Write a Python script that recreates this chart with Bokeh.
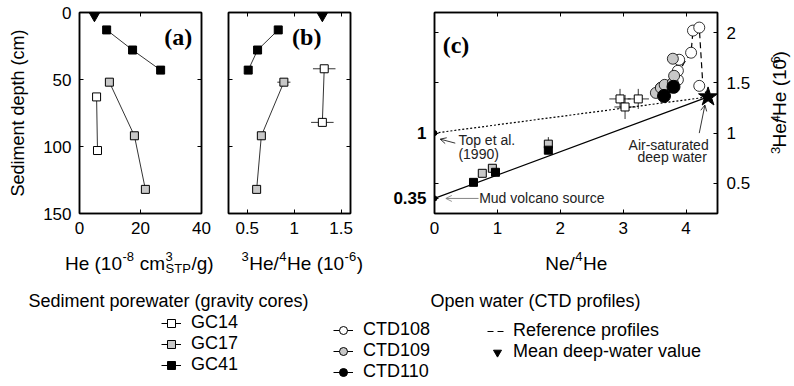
import math
from bokeh.plotting import figure
from bokeh.layouts import column, row
from bokeh.models import (LinearAxis, FixedTicker, Range1d, Arrow, OpenHead,
                          Legend, LegendItem)
from bokeh.core.properties import value
from bokeh.embed import file_html
from bokeh.resources import INLINE

# ---------------- data ----------------
# gravity cores: depth (cm), He (1e-8 ccSTP/g), 3He/4He (1e-6)
gc14_depth = [63, 103]
gc14_he = [5.6, 5.9]
gc14_depth_iso = [42, 82]
gc14_ratio = [1.32, 1.30]
gc14_ratio_err = [0.12, 0.12]

gc17_depth = [52, 92, 132]
gc17_he = [9.8, 18.0, 21.6]
gc17_ratio = [0.89, 0.65, 0.60]
gc17_ratio_err = [0.07, 0.03, 0.03]

gc41_depth = [13, 28, 43]
gc41_he = [8.9, 17.4, 26.6]
gc41_ratio = [0.83, 0.61, 0.51]
gc41_ratio_err = [0.03, 0.03, 0.03]

# mean deep-water value
deep_depth = [0]
deep_he = [4.9]
deep_ratio = [1.30]

# Ne/4He for the gravity-core samples
gc17_ne = [1.81, 0.92, 0.76]
gc41_ne = [1.81, 0.97, 0.62]
gc14_ne_c = [2.95, 3.03, 3.24]
gc14_ratio_c = [1.34, 1.26, 1.34]
gc14_ne_err_c = [0.17, 0.17, 0.17]
gc14_ratio_err_c = [0.10, 0.12, 0.10]

# CTD profiles
ctd108_ne = [3.60, 3.70, 3.87, 3.87, 3.89, 4.08, 4.11, 4.21, 4.21]
ctd108_ratio = [1.45, 1.47, 1.53, 1.62, 1.73, 1.80, 2.02, 2.05, 1.47]
ctd109_ne = [3.52, 3.60, 3.66, 3.79, 3.81, 3.79]
ctd109_ratio = [1.40, 1.45, 1.48, 1.50, 1.57, 1.74]
ctd110_ne = [3.65, 3.80]
ctd110_ratio = [1.37, 1.46]

# reference profile path
ref_ne = [3.86, 3.97, 4.08, 4.11, 4.21, 4.27, 4.35]
ref_ratio = [1.58, 1.70, 1.80, 2.02, 2.05, 1.45, 1.36]

# end members
air_ne = [4.35]
air_ratio = [1.36]
mud_ne = [0.0]
mud_ratio = [0.35]
top_ne = [0.0]
top_ratio = [1.0]

# ---------------- style ----------------
FONT = "Liberation Sans"
SERIF = "Liberation Serif"
TICK_SIZE = "17px"
GRAY = "#c8c8c8"
FRAME_TOP = 12
FH = 201
BOTTOM = 27
TOP_H = FRAME_TOP + FH + BOTTOM
SQ = 8


def panel(x_range, y_range, left, right, fw):
    p = figure(frame_width=fw, frame_height=FH, x_range=x_range, y_range=y_range,
               min_border_left=left, min_border_right=right,
               min_border_top=FRAME_TOP, min_border_bottom=BOTTOM,
               output_backend="svg", toolbar_location=None)
    p.grid.visible = False
    p.outline_line_color = "black"
    p.outline_line_width = 1.5
    return p


def style_axis(ax, ticks, labels=True, overrides=None, bold=False):
    ax.ticker = FixedTicker(ticks=ticks)
    ax.axis_line_color = "black"
    ax.axis_line_width = 1.5
    ax.major_tick_in = 4
    ax.major_tick_out = 0
    ax.major_tick_line_color = "black"
    ax.minor_tick_line_color = None
    if labels:
        ax.major_label_text_font = FONT
        ax.major_label_text_font_size = TICK_SIZE
        ax.major_label_text_color = "black"
        ax.major_label_standoff = 8
        if bold:
            ax.major_label_text_font_style = "bold"
        if overrides:
            ax.major_label_overrides = overrides
    else:
        ax.major_label_text_color = None
        ax.major_label_standoff = 0


def frame_axes(p, xticks, yticks):
    top = LinearAxis()
    style_axis(top, xticks, labels=False)
    p.add_layout(top, "above")
    right = LinearAxis()
    style_axis(right, yticks, labels=False)
    p.add_layout(right, "right")


def hbars(p, x, y, err, **kw):
    p.segment([a - e for a, e in zip(x, err)], y, [a + e for a, e in zip(x, err)], y, **kw)


def vbars(p, x, y, err, **kw):
    p.segment(x, [a - e for a, e in zip(y, err)], x, [a + e for a, e in zip(y, err)], **kw)


depth_ticks = [0, 50, 100, 150]

# ---------------- (a) He vs depth ----------------
A_LEFT, A_RIGHT, A_FW = 79, 14, 122
pa = panel(Range1d(0, 40), Range1d(150, 0), A_LEFT, A_RIGHT, A_FW)
style_axis(pa.xaxis[0], [0, 20, 40])
style_axis(pa.yaxis[0], depth_ticks)
pa.yaxis[0].axis_label = "Sediment depth (cm)"
pa.yaxis[0].axis_label_text_font = FONT
pa.yaxis[0].axis_label_text_font_size = "18px"
pa.yaxis[0].axis_label_text_font_style = "normal"
pa.yaxis[0].axis_label_text_color = "black"
pa.yaxis[0].axis_label_standoff = 12
frame_axes(pa, [0, 20, 40], depth_ticks)

for xs, ys, fill in [(gc14_he, gc14_depth, "white"), (gc17_he, gc17_depth, GRAY),
                     (gc41_he, gc41_depth, "black")]:
    pa.line(xs, ys, line_color="black", line_width=0.8)
    pa.scatter(xs, ys, marker="square", size=SQ, fill_color=fill, line_color="black")
pa.scatter(deep_he, deep_depth, marker="inverted_triangle", size=16, color="black")
pa.text(x=[37.0], y=[18.5], text=["(a)"], text_font=value(SERIF), text_font_style="bold",
        text_font_size="24px", text_align="right", text_baseline="middle")

# ---------------- (b) 3He/4He vs depth ----------------
B_LEFT, B_RIGHT, B_FW = 13, 40, 122
pb = panel(Range1d(0.3, 1.6), Range1d(150, 0), B_LEFT, B_RIGHT, B_FW)
style_axis(pb.xaxis[0], [0.5, 1, 1.5], overrides={0.5: "0.5", 1: "1", 1.5: "1.5"})
style_axis(pb.yaxis[0], depth_ticks, labels=False)
frame_axes(pb, [0.5, 1, 1.5], depth_ticks)

for xs, ys, err, fill in [(gc14_ratio, gc14_depth_iso, gc14_ratio_err, "white"),
                          (gc17_ratio, gc17_depth, gc17_ratio_err, GRAY),
                          (gc41_ratio, gc41_depth, gc41_ratio_err, "black")]:
    pb.line(xs, ys, line_color="black", line_width=0.8)
    hbars(pb, xs, ys, err, line_color="black", line_width=0.8)
    pb.scatter(xs, ys, marker="square", size=SQ, fill_color=fill, line_color="black")
pb.scatter(deep_ratio, deep_depth, marker="inverted_triangle", size=16, color="black")
pb.text(x=[1.29], y=[18.5], text=["(b)"], text_font=value(SERIF), text_font_style="bold",
        text_font_size="24px", text_align="right", text_baseline="middle")

# ---------------- (c) Ne/4He vs 3He/4He ----------------
C_LEFT, C_RIGHT, C_FW = 43, 48, 283
pc = panel(Range1d(0.0, 4.5), Range1d(0.2, 2.2), C_LEFT, C_RIGHT, C_FW)
style_axis(pc.xaxis[0], [0, 1, 2, 3, 4])
style_axis(pc.yaxis[0], [0.35, 0.5, 1, 1.5, 2], bold=True,
           overrides={0.35: "0.35", 0.5: "", 1: "1", 1.5: "", 2: ""})
top_c = LinearAxis()
style_axis(top_c, [0, 1, 2, 3, 4], labels=False)
pc.add_layout(top_c, "above")
right_c = LinearAxis()
style_axis(right_c, [0.5, 1, 1.5, 2], overrides={0.5: "0.5", 1: "1", 1.5: "1.5", 2: "2"})
right_c.major_label_standoff = 9
pc.add_layout(right_c, "right")

# mixing lines towards air-saturated deep water
pc.line(mud_ne + air_ne, mud_ratio + air_ratio, line_color="black", line_width=1.2)
pc.line(top_ne + air_ne, top_ratio + air_ratio, line_color="black", line_width=1.2,
        line_dash="2 2")
pc.line(ref_ne, ref_ratio, line_color="black", line_width=1.2, line_dash="6 4")

vbars(pc, gc17_ne, gc17_ratio, gc17_ratio_err, line_color="black", line_width=0.8)
vbars(pc, gc41_ne, gc41_ratio, gc41_ratio_err, line_color="black", line_width=0.8)
hbars(pc, gc14_ne_c, gc14_ratio_c, gc14_ne_err_c, line_color="black", line_width=0.8)
vbars(pc, gc14_ne_c, gc14_ratio_c, gc14_ratio_err_c, line_color="black", line_width=0.8)
pc.scatter(gc17_ne, gc17_ratio, marker="square", size=SQ, fill_color=GRAY, line_color="black")
pc.scatter(gc41_ne, gc41_ratio, marker="square", size=SQ, fill_color="black", line_color="black")
pc.scatter(gc14_ne_c, gc14_ratio_c, marker="square", size=SQ, fill_color="white",
           line_color="black")

pc.scatter(ctd108_ne, ctd108_ratio, marker="circle", size=11, fill_color="white",
           line_color="black", line_width=0.8)
pc.scatter(ctd109_ne, ctd109_ratio, marker="circle", size=11, fill_color=GRAY,
           line_color="black", line_width=0.8)
pc.scatter(ctd110_ne, ctd110_ratio, marker="circle", size=13, fill_color="black",
           line_color="black")
pc.scatter(air_ne, air_ratio, marker="star", size=20, color="black")
pc.scatter(mud_ne + top_ne, mud_ratio + top_ratio, marker="circle", size=5, color="black")

pc.text(x=[0.13], y=[1.88], text=["(c)"], text_font=value(SERIF), text_font_style="bold",
        text_font_size="24px", text_align="left", text_baseline="middle")
ann = dict(text_font=value(FONT), text_font_size="14px", text_baseline="middle",
           text_color="#222222")
pc.text(x=[0.38, 0.38], y=[0.93, 0.79], text=["Top et al.", "(1990)"], text_align="left", **ann)
pc.text(x=[0.71], y=[0.35], text=["Mud volcano source"], text_align="left", **ann)
pc.text(x=[4.36, 4.33], y=[0.88, 0.76], text=["Air-saturated", "deep water"],
        text_align="right", **ann)
pc.add_layout(Arrow(end=OpenHead(size=6, line_width=0.8), x_start=0.33, y_start=0.90,
                    x_end=0.09, y_end=0.94, line_width=0.8))
pc.add_layout(Arrow(end=OpenHead(size=6, line_width=0.8, line_color="#777777"),
                    x_start=0.70, y_start=0.35, x_end=0.18, y_end=0.35,
                    line_width=0.9, line_color="#777777"))
pc.add_layout(Arrow(end=OpenHead(size=6, line_width=0.8), x_start=4.21, y_start=1.0,
                    x_end=4.30, y_end=1.28, line_width=0.8))

# ---------------- rich text helpers (super/subscripts) ----------------
ARIAL = {' ': 278, '(': 333, ')': 333, '-': 333, '/': 278, '.': 278, 'H': 722, 'e': 556,
         'c': 500, 'm': 833, 'g': 556, 'S': 667, 'T': 611, 'P': 667, 'N': 722}
BASE, SCRIPT, SUP, SUB = 19, 13, 7, 5


def tw(s, size):
    return sum(ARIAL.get(ch, 556) for ch in s) * size / 1000.0


def layout_rich(cols):
    """Return (text, offset, shift, size) pieces and the total advance."""
    out, pos = [], 0.0
    for col in cols:
        adv = 0.0
        for text, kind in col:
            size = BASE if kind == "n" else SCRIPT
            shift = {"n": 0, "sup": -SUP, "sub": SUB}[kind]
            body = text.lstrip()
            lead = tw(text[:len(text) - len(body)], size)
            out.append((body, pos + lead, shift, size))
            adv = max(adv, tw(text, size))
        pos += adv + 0.5
    return out, pos


he_title = [[("He (10", "n")], [("-8", "sup")], [(" cm", "n")],
            [("3", "sup"), ("STP", "sub")], [("/g)", "n")]]
ratio_title = [[("3", "sup")], [("He/", "n")], [("4", "sup")], [("He (10", "n")],
               [("-6", "sup")], [(")", "n")]]
ne_title = [[("Ne/", "n")], [("4", "sup")], [("He", "n")]]

# narrow strip at the right holding the rotated title of panel (c)
D_X0 = (A_LEFT + A_FW + A_RIGHT) + (B_LEFT + B_FW + B_RIGHT) + (C_LEFT + C_FW + C_RIGHT)
pd = figure(width=794 - D_X0, height=TOP_H, x_range=Range1d(D_X0, 794),
            y_range=Range1d(TOP_H, 0), x_axis_location=None, y_axis_location=None,
            min_border=0, output_backend="svg", toolbar_location=None)
pd.grid.visible = False
pd.outline_line_color = None

# centred on the middle line of each piece; scripts sit a little off that line
segs, total = layout_rich(ratio_title)
y_start = 108 + total / 2
mid_x = 778
for text, off, shift, size in segs:
    dx = 0 if size == BASE else (-4 if shift < 0 else 4)
    pd.text(x=[mid_x + dx], y=[y_start - off], text=[text], angle=math.pi / 2,
            text_font=value(FONT), text_font_size=f"{size}px", text_align="left",
            text_baseline="middle", text_color="black")

# ---------------- lower strip: axis titles, group titles, legends ----------------
leg = figure(width=794, height=386 - TOP_H, x_range=Range1d(0, 794),
             y_range=Range1d(386, TOP_H), x_axis_location=None, y_axis_location=None,
             min_border=0, output_backend="svg", toolbar_location=None)
leg.grid.visible = False
leg.outline_line_color = None


def draw_rich_h(p, cols, cx, cy):
    segs, total = layout_rich(cols)
    x0 = cx - total / 2
    base = cy + 0.36 * BASE
    for text, off, shift, size in segs:
        p.text(x=[x0 + off], y=[base + shift], text=[text], text_font=value(FONT),
               text_font_size=f"{size}px", text_align="left", text_baseline="alphabetic",
               text_color="black")


draw_rich_h(leg, he_title, 139, 256)
draw_rich_h(leg, ratio_title, 302, 256)
draw_rich_h(leg, ne_title, 576, 256)
leg.text(x=[168, 535], y=[300, 300],
         text=["Sediment porewater (gravity cores)", "Open water (CTD profiles)"],
         text_font=value(FONT), text_font_size="18px", text_align="center",
         text_baseline="middle", text_color="black")

# legend proxies sit outside the visible range; only their swatches are shown
OFF = [-1000]


def proxy(marker=None, fill="white", line=True, dash="solid"):
    rs = []
    if line:
        rs.append(leg.line(x=OFF, y=OFF, line_color="black", line_width=1, line_dash=dash))
    if marker:
        rs.append(leg.scatter(x=OFF, y=OFF, marker=marker, size=SQ, fill_color=fill,
                              line_color="black"))
    return rs


def make_legend(items, loc, standoff):
    lg = Legend(items=[LegendItem(label=t, renderers=r) for t, r in items], location=loc,
                orientation="vertical", spacing=0, padding=0, margin=0, glyph_width=20,
                glyph_height=20, label_height=20, label_standoff=standoff,
                label_text_font=FONT, label_text_font_size="18px",
                label_text_color="black", background_fill_alpha=0, border_line_color=None)
    leg.add_layout(lg)


make_legend([("GC14", proxy("square", "white")), ("GC17", proxy("square", GRAY)),
             ("GC41", proxy("square", "black"))], (161, 11), 10)
make_legend([("CTD108", proxy("circle", "white")), ("CTD109", proxy("circle", GRAY)),
             ("CTD110", proxy("circle", "black"))], (333, 4), 10)
make_legend([("Reference profiles", proxy(None, dash="6 4")),
             ("Mean deep-water value", proxy("inverted_triangle", "black", line=False))],
            (487, 24), 6)

layout = column(row(pa, pb, pc, pd), leg)
open("out.html", "w").write(file_html(layout, INLINE))
